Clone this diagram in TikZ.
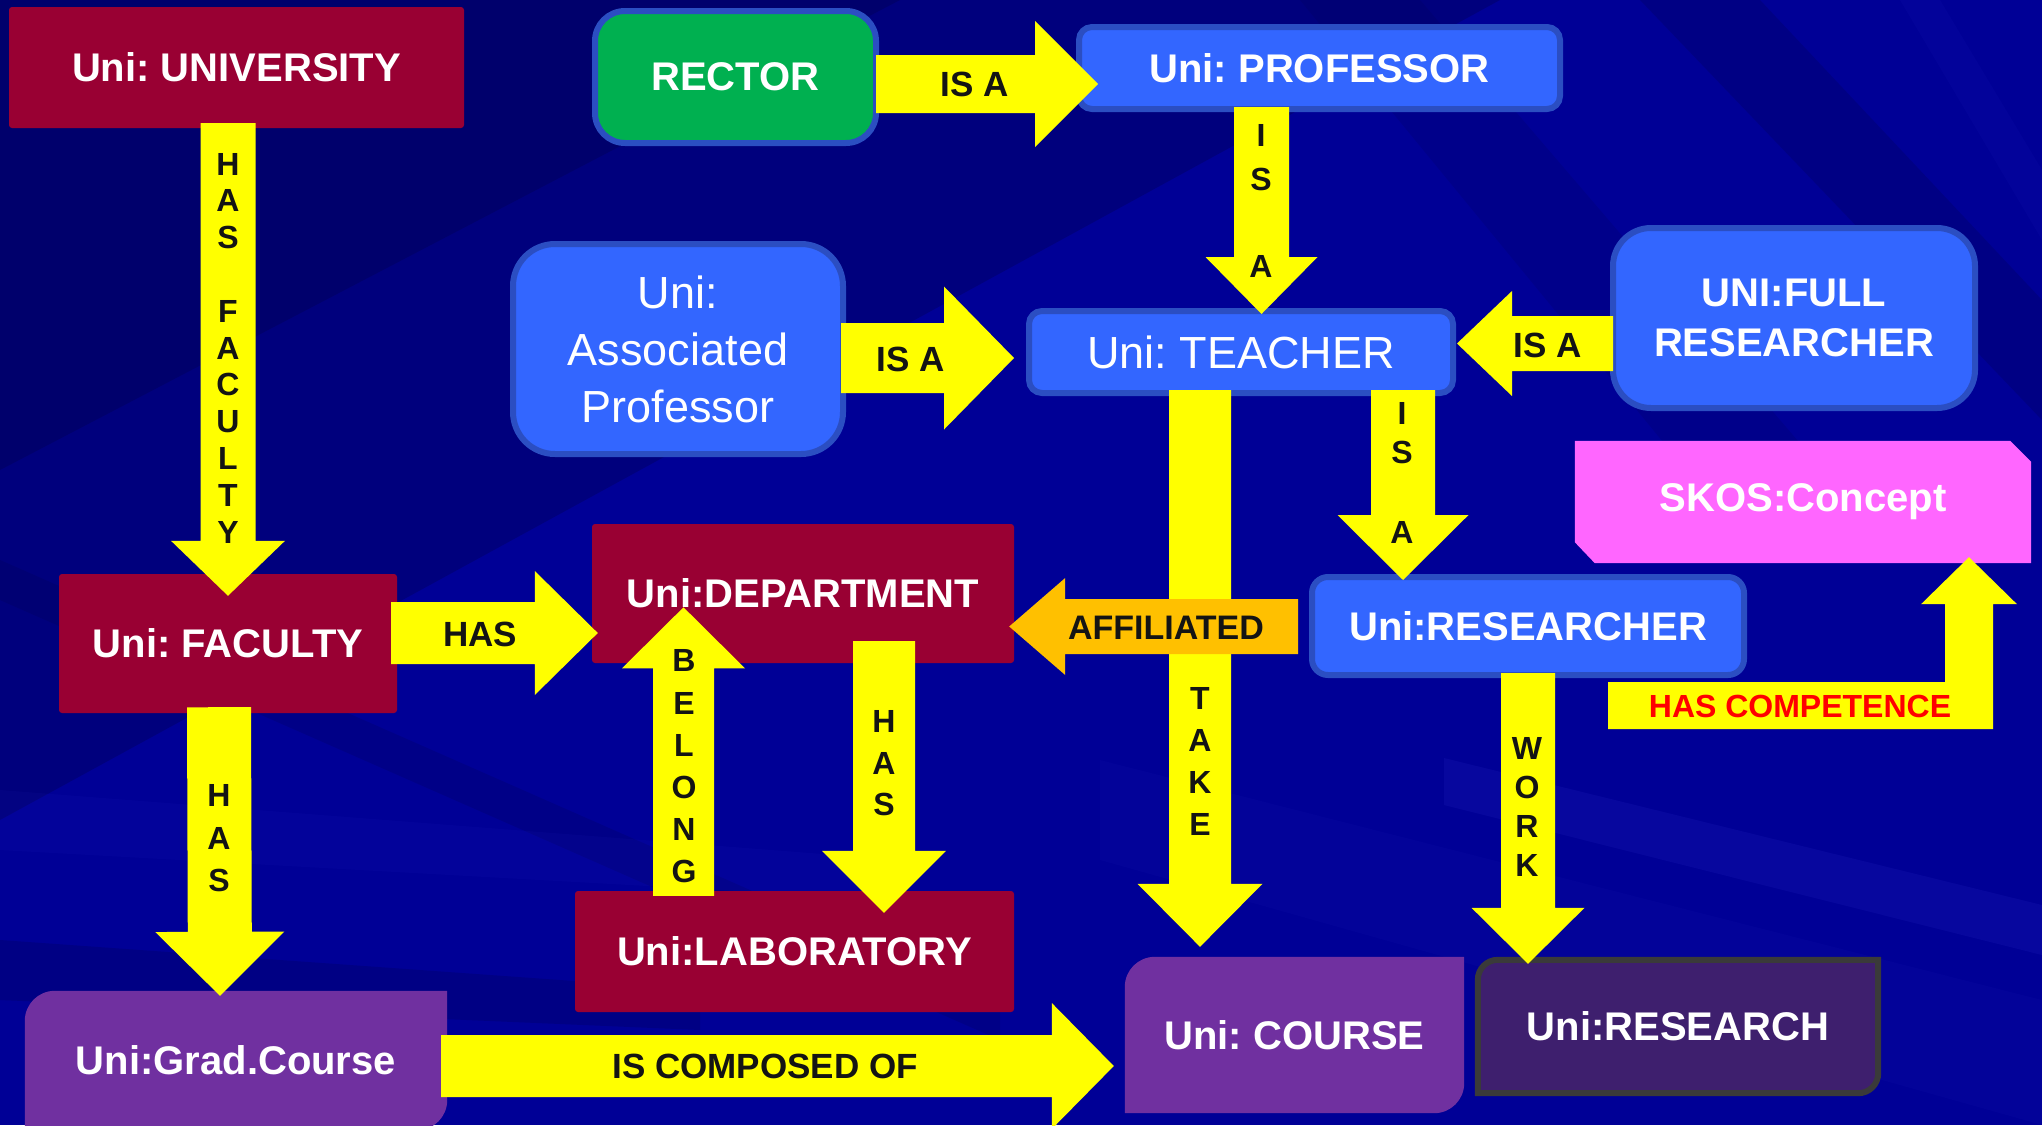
\documentclass[tikz,border=0pt]{standalone}
\usepackage{fontspec}
\setmainfont{Liberation Sans}
\usetikzlibrary{calc}
\pgfdeclarelayer{backdrop}
\pgfdeclarelayer{shapes}
\pgfsetlayers{backdrop,shapes,main}
\frenchspacing

\definecolor{bgblue}{RGB}{0,0,150}
\definecolor{bgdark}{RGB}{0,0,70}
\definecolor{bglight}{RGB}{60,60,220}
\definecolor{crimson}{RGB}{153,0,51}
\definecolor{boxblue}{RGB}{51,102,255}
\definecolor{rimblue}{RGB}{43,78,194}
\definecolor{rectorgreen}{RGB}{0,176,80}
\definecolor{coursepurple}{RGB}{112,48,160}
\definecolor{researchpurple}{RGB}{62,31,110}
\definecolor{researchrim}{RGB}{58,58,58}
\definecolor{skospink}{RGB}{255,102,255}
\definecolor{arrowyellow}{RGB}{255,255,0}
\definecolor{arroworange}{RGB}{255,192,0}
\definecolor{labelred}{RGB}{255,0,0}
\definecolor{labelblack}{RGB}{20,20,20}

% block arrow: #1 style, #2 tail coordinate, #3 tip coordinate,
% #4 half shaft width, #5 half head width, #6 head length
\newcommand\blockarrow[6]{%
  \coordinate (ba-h) at ($(#3)!#6!(#2)$);
  \fill[#1] ($(#2)!#4!90:(#3)$) -- ($(ba-h)!#4!90:(#3)$) -- ($(ba-h)!#5!90:(#3)$) -- (#3)
    -- ($(ba-h)!#5!-90:(#3)$) -- ($(ba-h)!#4!-90:(#3)$) -- ($(#2)!#4!-90:(#3)$) -- cycle;
}

\tikzset{
  boxtext/.style={text=white, inner sep=0pt, font=\fontsize{40}{50}\selectfont\bfseries},
  redbox/.style={boxtext, fill=crimson, rounded corners=3pt},
  bluebox/.style={boxtext, fill=boxblue, draw=rimblue, line width=6pt},
  greenbox/.style={boxtext, fill=rectorgreen, draw=rimblue, line width=6pt, rounded corners=30pt},
  plainbox/.style={boxtext},
  thinface/.style={font=\fontsize{45}{57}\selectfont},
  yarrow/.style={fill=arrowyellow},
  oarrow/.style={fill=arroworange},
  hlabel/.style={text=labelblack, inner sep=0pt, font=\fontsize{35}{42}\selectfont\bfseries},
  vlabel/.style={text=labelblack, inner sep=0pt, align=center, font=\fontsize{32}{#1}\selectfont\bfseries},
}

\begin{document}
\begin{tikzpicture}[x=1pt, y=-1pt]
\useasboundingbox (0,0) rectangle (2042,1125);

% ---------- backdrop ----------
\begin{pgfonlayer}{backdrop}
  \fill[bgblue] (0,0) rectangle (2042,1125);
  \fill[bgdark, opacity=.30] (0,0) -- (1500,0) -- (0,820) -- cycle;
  \fill[bgdark, opacity=.30] (0,0) -- (900,0) -- (0,470) -- cycle;
  \fill[bgdark, opacity=.18] (0,560) -- (1000,1000) -- (1000,1040) -- (0,600) -- cycle;
  \fill[bgdark, opacity=.22] (0,940) -- (700,990) -- (700,1030) -- (0,1000) -- cycle;
  \fill[bglight, opacity=.06] (0,790) -- (900,860) -- (900,900) -- (0,850) -- cycle;
  \fill[bgdark, opacity=.22] (1640,0) -- (1760,0) -- (2042,300) -- (2042,420) -- cycle;
  \fill[bgdark, opacity=.14] (1300,0) -- (1420,0) -- (1900,560) -- (1760,560) -- cycle;
  \fill[bglight, opacity=.06] (1900,0) -- (1940,0) -- (2042,170) -- (2042,240) -- cycle;
  \fill[bglight, opacity=.12] (1444,758) -- (2042,905) -- (2042,955) -- (1444,805) -- cycle;
  \fill[bglight, opacity=.05] (1100,760) -- (2042,1000) -- (2042,1125) -- (1100,860) -- cycle;
\end{pgfonlayer}

% ---------- concept boxes ----------
\node[redbox, minimum width=455pt, minimum height=121pt] (univ) at (236.5,67.5) {Uni: UNIVERSITY};
\node[greenbox, minimum width=281pt, minimum height=132pt] (rector) at (735.5,77) {RECTOR};
\node[bluebox, rounded corners=13pt, minimum width=481pt, minimum height=82pt] (prof) at (1319.5,68) {Uni: PROFESSOR};
\node[bluebox, thinface, rounded corners=42pt, minimum width=330pt, minimum height=210pt, align=center] (assoc) at (678,349) {Uni:\\Associated\\Professor};
\node[bluebox, thinface, rounded corners=13pt, minimum width=424pt, minimum height=82pt] (teacher) at (1241,352) {Uni: TEACHER};
\node[bluebox, rounded corners=38pt, minimum width=362pt, minimum height=180pt, align=center] (full) at (1794,318) {UNI:FULL\\RESEARCHER};
\node[bluebox, rounded corners=16pt, minimum width=432pt, minimum height=98pt] (researcher) at (1528,626) {Uni:RESEARCHER};
\node[plainbox, minimum width=456pt, minimum height=122pt] (skos) at (1803,502) {SKOS:Concept};
\node[redbox, minimum width=422pt, minimum height=139pt] (dept) at (803,593.5) {Uni:DEPARTMENT};
\node[redbox, minimum width=338pt, minimum height=139pt] (faculty) at (228,643.5) {Uni: FACULTY};
\node[redbox, minimum width=439pt, minimum height=121pt] (lab) at (794.5,951.5) {Uni:LABORATORY};
\node[plainbox, minimum width=422pt, minimum height=139pt] (grad) at (236,1060.5) {Uni:Grad.Course};
\node[plainbox, minimum width=339pt, minimum height=156pt] (course) at (1294.5,1035) {Uni: COURSE};
\node[plainbox, minimum width=400pt, minimum height=133pt] (research) at (1678,1026.5) {Uni:RESEARCH};

% box outlines with snipped or diagonally rounded corners
\begin{pgfonlayer}{shapes}
  \fill[skospink] (skos.north west) -- ($(skos.north east)+(-21,0)$) -- ($(skos.north east)+(0,21)$)
    -- (skos.south east) -- ($(skos.south west)+(20,0)$) -- ($(skos.south west)+(0,-21)$) -- cycle;
  \fill[coursepurple] (course.south west) -- ($(course.north west)+(0,30)$)
    arc[start angle=180, end angle=270, radius=30] -- (course.north east)
    -- ($(course.south east)+(0,-30)$) arc[start angle=0, end angle=90, radius=30] -- cycle;
  \fill[coursepurple] (grad.south west) -- ($(grad.north west)+(0,30)$)
    arc[start angle=180, end angle=270, radius=30] -- (grad.north east)
    -- ($(grad.south east)+(0,-30)$) arc[start angle=0, end angle=90, radius=30] -- cycle;
  \filldraw[fill=researchpurple, draw=researchrim, line width=6pt] (research.south west)
    -- ($(research.north west)+(0,20)$) arc[start angle=180, end angle=270, radius=20]
    -- (research.north east) -- ($(research.south east)+(0,-20)$)
    arc[start angle=0, end angle=90, radius=20] -- cycle;
\end{pgfonlayer}

% ---------- connectors ----------
\coordinate (uf-s) at ($(univ.south -| faculty.north)+(0,-5)$);
\coordinate (uf-t) at ($(faculty.north)+(0,22)$);
\blockarrow{yarrow}{uf-s}{uf-t}{27.5pt}{57pt}{55pt}

\coordinate (rp-s) at ($(rector.east)+(-3,7)$);
\coordinate (rp-t) at ($(prof.west)+(22,16)$);
\blockarrow{yarrow}{rp-s}{rp-t}{29pt}{63pt}{63pt}

\coordinate (pt-s) at ($(prof.south)+(-58,-5)$);
\coordinate (pt-t) at ($(teacher.north)+(20.5,6)$);
\blockarrow{yarrow}{pt-s}{pt-t}{27.5pt}{56pt}{57pt}

\coordinate (at-s) at ($(assoc.east)+(-5,9)$);
\coordinate (at-t) at ($(teacher.west)+(-12,6)$);
\blockarrow{yarrow}{at-s}{at-t}{35pt}{71.5pt}{70pt}

\coordinate (ft-s) at ($(full.west)+(3,25.5)$);
\coordinate (ft-t) at ($(teacher.east)+(1,-8.5)$);
\blockarrow{yarrow}{ft-s}{ft-t}{27.5pt}{52.5pt}{55pt}

\coordinate (tr-s) at ($(teacher.south)+(162,-6)$);
\coordinate (tr-t) at ($(researcher.north)+(-125,6)$);
\blockarrow{yarrow}{tr-s}{tr-t}{32pt}{65.5pt}{65pt}

\coordinate (tc-s) at ($(teacher.south)+(-41,-6)$);
\coordinate (tc-t) at ($(course.north)+(-94.5,-10)$);
\blockarrow{yarrow}{tc-s}{tc-t}{31pt}{62.5pt}{63pt}

\coordinate (rd-s) at ($(researcher.west)+(-11,0.5)$);
\coordinate (rd-t) at ($(dept.east)+(-5,33)$);
\blockarrow{oarrow}{rd-s}{rd-t}{27.5pt}{48.5pt}{56pt}

\coordinate (rr-s) at ($(researcher.south)+(0,-5)$);
\coordinate (rr-t) at ($(research.north)+(-150,4)$);
\blockarrow{yarrow}{rr-s}{rr-t}{27pt}{56.5pt}{56pt}

\coordinate (fd-s) at ($(faculty.east)+(-6,-10.5)$);
\coordinate (fd-t) at ($(dept.west)+(6,39.5)$);
\blockarrow{yarrow}{fd-s}{fd-t}{31pt}{62pt}{63pt}

\coordinate (ld-s) at ($(lab.north)+(-111,5)$);
\coordinate (ld-t) at ($(dept.north)+(-119.5,83.5)$);
\blockarrow{yarrow}{ld-s}{ld-t}{30.5pt}{61.5pt}{61pt}

\coordinate (dl-s) at ($(dept.south)+(81,-22)$);
\coordinate (dl-t) at ($(lab.north)+(89.5,22)$);
\blockarrow{yarrow}{dl-s}{dl-t}{31pt}{62pt}{62pt}

\coordinate (fg-s) at ($(faculty.south)+(-9,-6)$);
\coordinate (fg-t) at ($(grad.north)+(-16,5)$);
\blockarrow{yarrow}{fg-s}{fg-t}{32pt}{64.5pt}{64pt}

\coordinate (gc-s) at ($(grad.east)+(-6,5.5)$);
\coordinate (gc-t) at ($(course.west)+(-11,31)$);
\blockarrow{yarrow}{gc-s}{gc-t}{31pt}{63pt}{62pt}

% bent arrow from the researcher up to the concept box
\coordinate (hc-s) at ($(researcher.south east)+(-139,27.5)$);
\coordinate (hc-t) at ($(skos.south)+(166,-6)$);
\fill[yarrow] ($(hc-s)+(0,-23.5)$) -- ($(hc-t |- hc-s)+(-24,-23.5)$) -- ($(hc-t)+(-24,47)$)
  -- ($(hc-t)+(-48,47)$) -- (hc-t) -- ($(hc-t)+(48,47)$) -- ($(hc-t)+(24,47)$)
  -- ($(hc-t |- hc-s)+(24,23.5)$) -- ($(hc-s)+(0,23.5)$) -- cycle;

% ---------- connector labels ----------
\node[hlabel] (l-rp) at (975,84) {IS A};
\node[hlabel] (l-at) at (911,359) {IS A};
\node[hlabel] (l-ft) at (1548,345) {IS A};
\node[hlabel] (l-fd) at (480,634) {HAS};
\node[hlabel, font=\fontsize{34}{40}\selectfont\bfseries] (l-rd) at (1166,628) {AFFILIATED};
\node[hlabel] (l-gc) at (765,1066) {IS COMPOSED OF};
\node[hlabel, text=labelred, font=\fontsize{32}{40}\selectfont\bfseries] (l-hc) at (1800,706) {HAS COMPETENCE};

\node[vlabel=36.8] (l-uf) at (228,348) {H\\A\\S\\[36.8pt]F\\A\\C\\U\\L\\T\\Y};
\node[vlabel=44] (l-pt) at (1261,200.5) {I\\S\\[43pt]A};
\node[vlabel=39] (l-tr) at (1402,472.5) {I\\S\\[41pt]A};
\node[vlabel=42.3] (l-tc) at (1200,761.5) {T\\A\\K\\E};
\node[vlabel=38.7] (l-rr) at (1527,807) {W\\O\\R\\K};
\node[vlabel=42.2] (l-ld) at (684,766.5) {B\\E\\L\\O\\N\\G};
\node[vlabel=41.5] (l-dl) at (884,763.5) {H\\A\\S};
\node[vlabel=42.5] (l-fg) at (219,838.5) {H\\A\\S};
\end{tikzpicture}
\end{document}
